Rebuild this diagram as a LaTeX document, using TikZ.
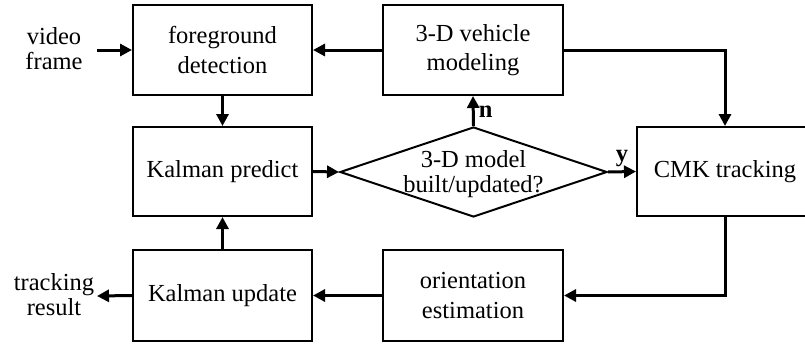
\documentclass[tikz,border=0pt]{standalone}
\usepackage{fontspec}
\setmainfont{Liberation Serif}
\usetikzlibrary{arrows.meta,shapes.geometric}

\tikzset{
  block/.style={draw, line width=2pt, inner sep=0pt, align=center,
    font=\fontsize{24.5}{29.5}\selectfont},
  sidetext/.style={inner sep=0pt, align=center,
    font=\fontsize{24.5}{25}\selectfont},
  flow/.style={line width=3pt, -{Triangle[length=12pt,width=12pt]}},
  tag/.style={inner sep=0pt, font=\fontsize{24.5}{25}\selectfont\bfseries}
}

\begin{document}
\begin{tikzpicture}[x=1pt, y=-1pt]
\useasboundingbox (0,0) rectangle (805,343);

% processing blocks
\node[block, minimum width=179pt, minimum height=90pt] (fg) at (222.5,50) {foreground\\detection};
\node[block, minimum width=179pt, minimum height=89pt] (kp) at (222.5,171.5) {Kalman predict};
\node[block, minimum width=179pt, minimum height=91pt] (ku) at (222.5,295.5) {Kalman update};
\node[block, minimum width=180pt, minimum height=90pt] (veh) at (473,50) {3-D vehicle\\modeling};
\node[block, minimum width=180pt, minimum height=91pt] (ori) at (473,295.5) {orientation\\estimation};
\node[block, minimum width=176pt, minimum height=89pt] (cmk) at (725,171.5) {CMK tracking};

% decision
\node[diamond, draw, line width=2pt, inner sep=0pt, minimum width=267pt, minimum height=90pt] (dec) at (473.5,172) {};
\node[sidetext] (dectext) at (473.5,174) {3-D model\\built/updated?};

% input and output labels
\node[sidetext] (vf) at (54,49) {video\\frame};
\node[sidetext] (tr) at (54,295) {tracking\\result};
\coordinate (vfin) at (97,50);
\coordinate (trout) at (97,296);

% connectors
\draw[flow] (vfin) -- (fg.west);
\draw[flow] (veh.west) -- (fg.east);
\draw[flow] (fg.south) -- (kp.north);
\draw[flow] (kp.east) -- (dec.west);
\draw[flow] (dec.north) -- node[tag, anchor=west, xshift=4pt, yshift=-1pt] (nlab) {n} (veh.south);
\draw[flow] (dec.east) -- node[tag, anchor=south, yshift=3pt] (ylab) {y} (cmk.west);
\draw[flow] (veh.east) -| (cmk.north);
\draw[flow] (cmk.south) |- (ori.east);
\draw[flow] (ori.west) -- (ku.east);
\draw[flow] (ku.north) -- (kp.south);
\draw[flow] (ku.west) -- (trout);
\end{tikzpicture}
\end{document}
